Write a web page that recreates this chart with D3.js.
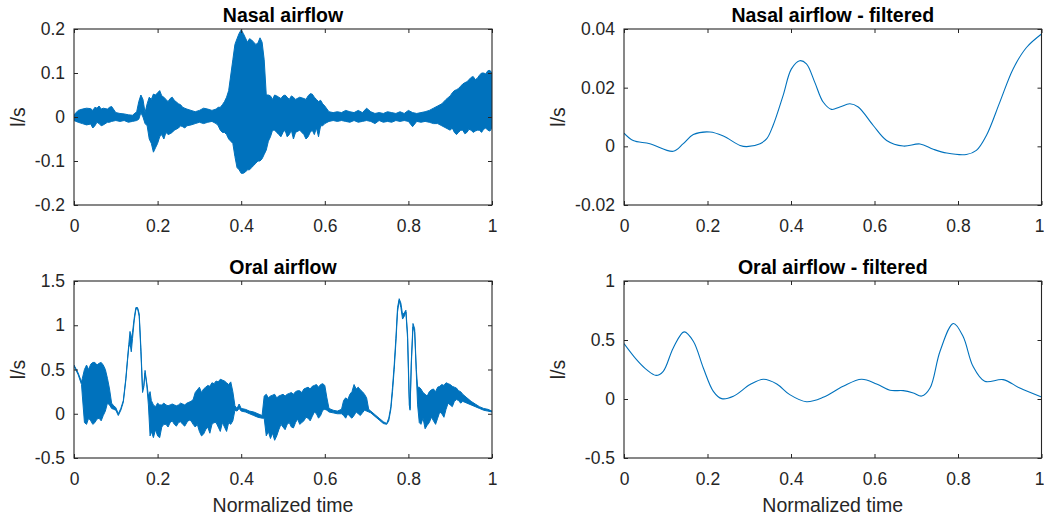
<!DOCTYPE html>
<html>
<head>
<meta charset="utf-8">
<script src="https://cdn.jsdelivr.net/npm/d3@7"></script>
<style>
  html, body { margin: 0; padding: 0; background: #fff; }
  svg { display: block; font-family: "Liberation Sans", Arial, Helvetica, sans-serif; }
</style>
</head>
<body>
<svg id="fig" width="1044" height="519"></svg>
<script>
// ---- shared axis ticks ----
const timeTicks = [0, 0.2, 0.4, 0.6, 0.8, 1];
const timeTickLabels = ["0", "0.2", "0.4", "0.6", "0.8", "1"];

// ---- Nasal airflow (raw): per-sample min / max of the waveform ----
const nasalT = [
  0.000,0.010,0.020,0.030,0.040,0.045,0.050,0.055,0.060,0.065,0.070,0.080,0.085,0.090,
  0.100,0.110,0.120,0.130,0.140,0.150,0.155,0.160,0.165,0.170,0.175,0.180,0.185,0.190,0.195,
  0.200,0.205,0.210,0.215,0.220,0.225,0.230,0.235,0.240,0.250,0.255,0.260,0.265,0.270,0.280,0.290,
  0.300,0.310,0.320,0.330,0.340,0.345,0.350,0.355,0.360,0.365,0.370,0.380,0.385,0.390,0.395,
  0.400,0.405,0.410,0.415,0.420,0.425,0.430,0.435,0.440,0.445,0.450,0.455,0.460,0.465,0.470,0.475,0.480,0.485,0.490,0.495,
  0.500,0.505,0.510,0.515,0.520,0.525,0.530,0.540,0.550,0.555,0.560,0.565,0.570,0.575,0.580,0.585,0.590,0.595,
  0.600,0.610,0.620,0.630,0.640,0.650,0.660,0.670,0.680,0.690,
  0.700,0.710,0.720,0.730,0.740,0.750,0.760,0.770,0.780,0.790,
  0.800,0.810,0.820,0.830,0.840,0.850,0.860,0.870,0.880,0.890,
  0.900,0.905,0.910,0.915,0.920,0.925,0.930,0.935,0.940,0.945,0.950,0.955,0.960,0.965,0.970,0.975,0.980,0.985,0.990,0.995,1.000];
const nasalLo = [
  -0.008,-0.012,-0.015,-0.018,-0.016,-0.025,-0.020,-0.012,-0.015,-0.020,-0.018,-0.012,-0.012,-0.010,
  -0.008,-0.010,-0.008,-0.012,-0.010,-0.008,-0.005,0.010,0.000,-0.015,-0.020,-0.050,-0.060,-0.080,-0.070,
  -0.060,-0.045,-0.040,-0.050,-0.035,-0.040,-0.038,-0.035,-0.030,-0.025,-0.020,-0.022,-0.025,-0.020,-0.018,-0.015,
  -0.012,-0.015,-0.012,-0.010,-0.015,-0.020,-0.030,-0.035,-0.035,-0.040,-0.050,-0.060,-0.090,-0.115,-0.120,
  -0.128,-0.128,-0.125,-0.120,-0.120,-0.115,-0.110,-0.105,-0.100,-0.100,-0.095,-0.085,-0.075,-0.055,-0.045,-0.030,-0.030,-0.035,-0.040,-0.045,
  -0.035,-0.030,-0.045,-0.040,-0.030,-0.050,-0.035,-0.030,-0.040,-0.050,-0.045,-0.035,-0.030,-0.040,-0.025,-0.045,-0.020,-0.020,
  -0.015,-0.010,-0.008,-0.010,-0.008,-0.010,-0.012,-0.008,-0.012,-0.010,
  -0.008,-0.010,-0.015,-0.008,-0.012,-0.010,-0.012,-0.008,-0.010,-0.008,
  -0.010,-0.022,-0.010,-0.012,-0.010,-0.012,-0.015,-0.015,-0.020,-0.025,
  -0.030,-0.025,-0.035,-0.040,-0.035,-0.030,-0.030,-0.038,-0.035,-0.028,-0.030,-0.035,-0.032,-0.030,-0.030,-0.035,-0.028,-0.025,-0.030,-0.032,-0.025];
const nasalHi = [
  0.005,0.015,0.018,0.020,0.019,0.015,0.022,0.020,0.025,0.018,0.020,0.018,0.022,0.024,
  0.010,0.008,0.007,0.005,0.004,0.012,0.035,0.050,0.040,0.010,0.030,0.045,0.040,0.052,0.050,
  0.055,0.060,0.048,0.045,0.040,0.035,0.042,0.045,0.038,0.030,0.028,0.022,0.020,0.018,0.015,0.012,
  0.015,0.020,0.018,0.015,0.018,0.022,0.022,0.028,0.035,0.045,0.060,0.130,0.165,0.178,0.190,
  0.198,0.190,0.180,0.170,0.178,0.175,0.170,0.165,0.168,0.180,0.170,0.130,0.050,0.050,0.048,0.040,0.050,0.048,0.045,0.042,
  0.048,0.050,0.045,0.040,0.048,0.045,0.040,0.045,0.042,0.040,0.048,0.053,0.052,0.045,0.040,0.035,0.038,0.030,
  0.025,0.012,0.010,0.012,0.010,0.015,0.012,0.010,0.015,0.010,
  0.020,0.012,0.008,0.010,0.008,0.012,0.010,0.008,0.012,0.008,
  0.015,0.010,0.008,0.010,0.012,0.015,0.020,0.025,0.030,0.040,
  0.048,0.055,0.060,0.062,0.065,0.070,0.075,0.078,0.080,0.085,0.090,0.092,0.085,0.088,0.095,0.100,0.100,0.098,0.105,0.106,0.100];
const nasalTicks = [-0.2, -0.1, 0, 0.1, 0.2];
const nasalTickLabels = ["-0.2", "-0.1", "0", "0.1", "0.2"];

// ---- Nasal airflow (low-pass filtered) ----
const nasalFiltT = [0,0.022,0.062,0.118,0.142,0.166,0.206,0.238,0.278,0.294,0.326,0.342,0.357,0.381,0.401,0.421,0.437,0.457,0.477,0.497,0.517,0.541,0.561,0.597,0.629,0.669,0.709,0.741,0.773,0.820,0.844,0.868,0.900,0.932,0.964,1.0];
const nasalFiltV = [0.0045,0.0020,0.0009,-0.0017,0.0009,0.0040,0.0049,0.0035,0.0003,-0.0001,0.0009,0.0026,0.0071,0.0173,0.0264,0.0292,0.0281,0.0218,0.0151,0.0126,0.0134,0.0145,0.0134,0.0071,0.0020,0.0001,0.0008,-0.0010,-0.0023,-0.0028,-0.0014,0.0037,0.0150,0.0264,0.0337,0.0383];
const nasalFiltTicks = [-0.02, 0, 0.02, 0.04];
const nasalFiltTickLabels = ["-0.02", "0", "0.02", "0.04"];

// ---- Oral airflow (raw): per-sample min / max of the waveform ----
const oralT = [
  0.000,0.010,0.018,0.020,0.025,0.030,0.035,0.040,0.045,0.050,0.055,0.060,0.065,0.070,0.075,0.080,0.085,0.090,0.095,
  0.100,0.106,0.112,0.118,0.124,0.128,0.131,0.134,0.137,0.140,0.144,0.148,0.152,0.156,0.160,0.164,0.167,0.170,0.174,0.178,0.182,0.185,0.190,0.195,
  0.200,0.205,0.210,0.215,0.220,0.225,0.230,0.235,0.240,0.245,0.250,0.255,0.260,0.265,0.270,0.275,0.280,0.285,0.290,0.295,
  0.300,0.305,0.310,0.315,0.320,0.325,0.330,0.335,0.340,0.345,0.350,0.355,0.360,0.365,0.370,0.375,0.380,0.385,0.390,0.395,
  0.400,0.410,0.420,0.430,0.440,0.450,0.455,0.460,0.465,0.470,0.475,0.480,0.485,0.490,0.495,
  0.500,0.505,0.510,0.515,0.520,0.525,0.530,0.535,0.540,0.545,0.550,0.555,0.560,0.565,0.570,0.575,0.580,0.585,0.590,0.595,
  0.600,0.605,0.610,0.620,0.630,0.640,0.645,0.650,0.655,0.660,0.665,0.670,0.675,0.680,0.685,0.690,0.695,
  0.700,0.705,0.710,0.720,0.730,0.740,0.748,0.753,0.758,0.762,0.766,0.770,0.774,0.778,0.782,0.786,0.790,0.794,0.798,
  0.802,0.804,0.807,0.811,0.815,0.819,0.822,0.826,0.830,0.835,0.840,0.845,0.850,0.855,0.860,0.865,0.870,0.875,0.880,0.885,0.890,0.895,
  0.900,0.905,0.910,0.915,0.920,0.925,0.930,0.940,0.950,0.960,0.970,0.980,0.990,1.000];
const oralLo = [
  0.54,0.44,0.33,0.20,-0.10,-0.12,-0.05,-0.08,-0.12,-0.10,-0.06,-0.05,-0.08,-0.02,0.03,0.12,0.10,0.06,0.05,
  0.04,-0.02,0.04,0.13,0.38,0.60,0.75,0.80,0.70,0.85,1.05,1.18,1.19,1.10,0.70,0.24,0.30,0.46,0.33,0.10,-0.25,-0.20,-0.27,-0.18,
  -0.25,-0.27,-0.15,-0.12,-0.12,-0.15,-0.10,-0.08,-0.12,-0.14,-0.10,-0.09,-0.12,-0.14,-0.10,-0.07,-0.08,-0.12,-0.15,-0.12,
  -0.20,-0.25,-0.23,-0.18,-0.15,-0.22,-0.12,-0.10,-0.10,-0.15,-0.20,-0.10,-0.15,-0.20,-0.10,-0.12,-0.08,0.04,0.03,0.06,
  0.03,0.02,0.00,-0.02,-0.04,-0.05,-0.05,-0.25,-0.20,-0.28,-0.22,-0.30,-0.25,-0.18,-0.12,
  -0.15,-0.18,-0.12,-0.10,-0.15,-0.16,-0.10,-0.06,-0.12,-0.10,-0.08,-0.04,-0.05,-0.08,-0.03,0.02,0.00,-0.05,-0.02,0.04,
  0.05,0.04,0.02,0.01,0.00,0.00,-0.02,-0.05,0.00,-0.03,-0.05,-0.02,0.02,0.00,-0.02,0.01,0.04,
  0.03,0.02,0.01,-0.03,-0.07,-0.11,-0.12,-0.08,0.05,0.25,0.50,0.80,1.15,1.28,1.20,1.07,1.10,1.15,0.85,
  0.10,0.04,0.55,0.98,0.92,0.45,0.10,-0.10,-0.12,-0.05,-0.17,-0.13,-0.10,-0.04,-0.08,-0.12,-0.05,0.02,0.00,-0.04,0.05,0.12,
  0.10,0.08,0.14,0.16,0.15,0.12,0.14,0.12,0.10,0.08,0.06,0.04,0.03,0.02];
const oralHi = [
  0.55,0.46,0.36,0.40,0.50,0.55,0.50,0.56,0.58,0.58,0.55,0.57,0.58,0.55,0.50,0.40,0.28,0.12,0.09,
  0.07,0.00,0.06,0.15,0.40,0.62,0.78,0.93,0.85,0.92,1.08,1.20,1.20,1.13,0.75,0.28,0.32,0.49,0.35,0.20,0.25,0.15,0.10,0.08,
  0.12,0.10,0.10,0.12,0.10,0.09,0.10,0.11,0.10,0.09,0.10,0.12,0.11,0.10,0.12,0.13,0.14,0.16,0.24,0.27,
  0.30,0.24,0.28,0.30,0.32,0.31,0.35,0.34,0.37,0.36,0.39,0.38,0.37,0.35,0.33,0.36,0.25,0.09,0.06,0.11,
  0.06,0.05,0.03,0.02,0.00,-0.02,0.20,0.22,0.18,0.20,0.21,0.22,0.18,0.20,0.21,
  0.22,0.20,0.22,0.23,0.24,0.22,0.25,0.26,0.26,0.24,0.28,0.29,0.30,0.28,0.31,0.32,0.33,0.30,0.33,0.34,
  0.32,0.18,0.06,0.04,0.03,0.05,0.15,0.18,0.16,0.22,0.25,0.33,0.28,0.30,0.27,0.25,0.22,
  0.18,0.05,0.03,-0.01,-0.05,-0.09,-0.11,-0.05,0.08,0.30,0.55,0.85,1.20,1.30,1.25,1.12,1.14,1.17,0.90,
  0.20,0.06,0.60,1.02,0.96,0.50,0.30,0.30,0.28,0.24,0.22,0.20,0.25,0.27,0.28,0.25,0.30,0.31,0.33,0.32,0.35,0.34,
  0.33,0.31,0.30,0.29,0.26,0.25,0.22,0.18,0.14,0.11,0.08,0.06,0.05,0.03];
const oralTicks = [-0.5, 0, 0.5, 1, 1.5];
const oralTickLabels = ["-0.5", "0", "0.5", "1", "1.5"];

// ---- Oral airflow (low-pass filtered) ----
const oralFiltT = [0,0.030,0.054,0.077,0.094,0.118,0.144,0.166,0.190,0.214,0.234,0.262,0.302,0.334,0.366,0.397,0.437,0.477,0.525,0.569,0.605,0.637,0.669,0.693,0.713,0.733,0.757,0.789,0.812,0.836,0.864,0.908,0.948,1.0];
const oralFiltV = [0.47,0.334,0.249,0.20,0.235,0.433,0.569,0.49,0.263,0.065,0.003,0.023,0.122,0.167,0.127,0.037,-0.023,0.014,0.108,0.167,0.127,0.074,0.071,0.051,0.025,0.093,0.405,0.64,0.532,0.277,0.15,0.164,0.093,0.017];
const oralFiltTicks = [-0.5, 0, 0.5, 1];
const oralFiltTickLabels = ["-0.5", "0", "0.5", "1"];

// ---- styling ----
const lineColor = "#0072BD";
const axisColor = "#262626";
const tickFont = 17.5;
const labelFont = 19.5;

const svg = d3.select("#fig");

function drawPanel(cfg) {
  const { left, right, top, bottom } = cfg.box;
  const x = d3.scaleLinear().domain([0, 1]).range([left, right]);
  const y = d3.scaleLinear().domain(cfg.yDomain).range([bottom, top]);
  const g = svg.append("g");

  const clipId = "clip-" + cfg.id;
  g.append("clipPath").attr("id", clipId)
    .append("rect").attr("x", left).attr("y", top - 1)
    .attr("width", right - left).attr("height", bottom - top + 2);

  const plot = g.append("g").attr("clip-path", `url(#${clipId})`);

  if (cfg.kind === "band") {
    // dense waveform drawn as its min/max envelope
    const n = Math.min(cfg.t.length, cfg.lo.length, cfg.hi.length);
    const idx = d3.range(n);
    const area = d3.area()
      .x(i => x(cfg.t[i]))
      .y0(i => y(cfg.lo[i]))
      .y1(i => y(cfg.hi[i]));
    plot.append("path").datum(idx)
      .attr("d", area)
      .attr("fill", lineColor)
      .attr("stroke", lineColor)
      .attr("stroke-width", 1)
      .attr("stroke-linejoin", "round");
  } else {
    const idx = d3.range(cfg.t.length);
    const line = d3.line()
      .x(i => x(cfg.t[i]))
      .y(i => y(cfg.v[i]))
      .curve(d3.curveCatmullRom.alpha(0.5));
    plot.append("path").datum(idx)
      .attr("d", line)
      .attr("fill", "none")
      .attr("stroke", lineColor)
      .attr("stroke-width", 1.1);
  }

  // x axes (bottom with labels, top with ticks only), ticks pointing inward
  const xb = g.append("g").attr("transform", `translate(0,${bottom})`)
    .call(d3.axisBottom(x).tickValues(timeTicks)
      .tickFormat((d, i) => timeTickLabels[i]).tickSize(-4).tickPadding(15));
  const xt = g.append("g").attr("transform", `translate(0,${top})`)
    .call(d3.axisTop(x).tickValues(timeTicks).tickFormat("").tickSize(-4));
  // y axes (left with labels, right with ticks only)
  const yl = g.append("g").attr("transform", `translate(${left},0)`)
    .call(d3.axisLeft(y).tickValues(cfg.yTicks)
      .tickFormat((d, i) => cfg.yTickLabels[i]).tickSize(-4).tickPadding(9));
  const yr = g.append("g").attr("transform", `translate(${right},0)`)
    .call(d3.axisRight(y).tickValues(cfg.yTicks).tickFormat("").tickSize(-4));

  [xb, xt, yl, yr].forEach(a => {
    a.select(".domain").remove();
    a.selectAll(".tick line").attr("stroke", axisColor).attr("stroke-width", 1);
    a.selectAll(".tick text").attr("fill", axisColor)
      .style("font-size", tickFont + "px")
      .style("font-family", '"Liberation Sans", Arial, Helvetica, sans-serif');
  });

  // keep the last time label inside the figure edge
  if (right > 1030) {
    xb.selectAll(".tick text").filter(d => d === 1).attr("dx", -2.5);
  }

  // axes box
  g.append("rect")
    .attr("x", left).attr("y", top)
    .attr("width", right - left).attr("height", bottom - top)
    .attr("fill", "none").attr("stroke", axisColor).attr("stroke-width", 1.1);

  // title
  g.append("text")
    .attr("x", (left + right) / 2).attr("y", top - 7.5)
    .attr("text-anchor", "middle")
    .attr("font-weight", "bold")
    .attr("font-size", labelFont)
    .attr("fill", "#000")
    .text(cfg.title);

  // y label
  g.append("text")
    .attr("transform", `translate(${cfg.yLabelX},${(top + bottom) / 2}) rotate(-90)`)
    .attr("text-anchor", "middle")
    .attr("font-size", labelFont)
    .attr("fill", axisColor)
    .text("l/s");

  // x label
  if (cfg.xLabel) {
    g.append("text")
      .attr("x", (left + right) / 2).attr("y", bottom + 53.5)
      .attr("text-anchor", "middle")
      .attr("font-size", labelFont)
      .attr("fill", axisColor)
      .text(cfg.xLabel);
  }
}

drawPanel({
  id: "nasal", kind: "band", title: "Nasal airflow",
  box: { left: 74, right: 492, top: 29, bottom: 205 },
  t: nasalT, lo: nasalLo, hi: nasalHi,
  yDomain: [-0.2, 0.2], yTicks: nasalTicks, yTickLabels: nasalTickLabels,
  yLabelX: 25
});
drawPanel({
  id: "nasalf", kind: "line", title: "Nasal airflow - filtered",
  box: { left: 624, right: 1041.5, top: 29, bottom: 205 },
  t: nasalFiltT, v: nasalFiltV,
  yDomain: [-0.02, 0.04], yTicks: nasalFiltTicks, yTickLabels: nasalFiltTickLabels,
  yLabelX: 565
});
drawPanel({
  id: "oral", kind: "band", title: "Oral airflow",
  box: { left: 74, right: 492, top: 281, bottom: 458 },
  t: oralT, lo: oralLo, hi: oralHi,
  yDomain: [-0.5, 1.5], yTicks: oralTicks, yTickLabels: oralTickLabels,
  yLabelX: 25, xLabel: "Normalized time"
});
drawPanel({
  id: "oralf", kind: "line", title: "Oral airflow - filtered",
  box: { left: 624, right: 1041.5, top: 281, bottom: 458 },
  t: oralFiltT, v: oralFiltV,
  yDomain: [-0.5, 1], yTicks: oralFiltTicks, yTickLabels: oralFiltTickLabels,
  yLabelX: 565, xLabel: "Normalized time"
});
</script>
</body>
</html>
